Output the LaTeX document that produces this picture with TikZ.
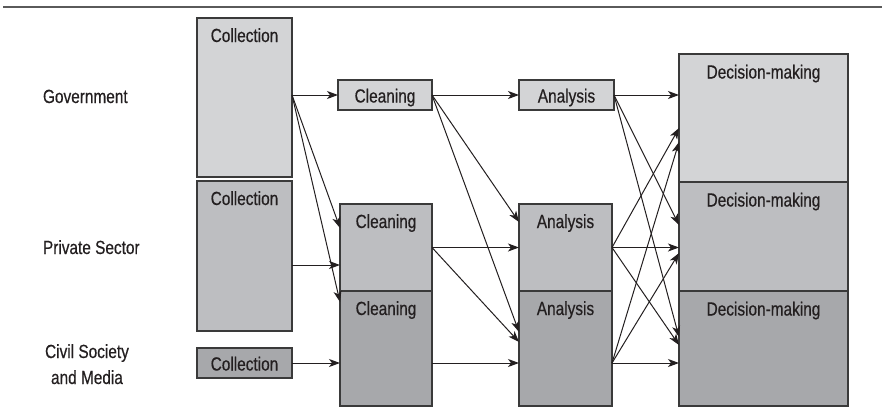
\documentclass[tikz,border=0pt]{standalone}
\usepackage{fontspec}
\setmainfont{Liberation Sans}[FakeStretch=0.81,FakeBold=0.5]
\usetikzlibrary{arrows.meta,calc}
\definecolor{gfill}{HTML}{D3D4D6}
\definecolor{pfill}{HTML}{BDBEC1}
\definecolor{cfill}{HTML}{A7A8AB}
\definecolor{edge}{HTML}{3A3A3A}
\definecolor{ink}{HTML}{231F20}
\definecolor{rulec}{HTML}{5A5A5A}
\begin{document}
\begin{tikzpicture}[x=1pt,y=-1pt,
  box/.style={draw=edge,line width=1.2pt,inner sep=0pt,outer sep=0pt,text=ink,
    font=\fontsize{19}{22}\selectfont,text height=15pt,text depth=0pt},
  txt/.style={inner sep=0pt,outer sep=0pt,text=ink,font=\fontsize{19}{22}\selectfont},
  arr/.style={draw=ink,line width=1pt,-{Stealth[length=11pt,width=8pt,inset=3pt]}}]
\useasboundingbox (0,0) rectangle (882,413);
\draw[rulec,line width=2pt] (3,7) -- (882,7);

% left labels
\node[txt,anchor=base west] (gov) at (43,103) {Government};
\node[txt,anchor=base west] (priv) at (43,254) {Private Sector};
\node[txt,anchor=base] (civa) at (87,358) {Civil Society};
\node[txt,anchor=base] (civb) at (87,384) {and Media};

% collection
\node[box,fill=gfill,minimum width=95pt,minimum height=159pt] (col1) at (244.5,97.5) {};
\node[box,fill=pfill,minimum width=95pt,minimum height=150pt] (col2) at (244.5,256) {};
\node[box,fill=cfill,minimum width=95pt,minimum height=30pt] (col3) at (244.5,363) {Collection};
\node[txt,anchor=base] (col1t) at ($(col1.north)+(0,24)$) {Collection};
\node[txt,anchor=base] (col2t) at ($(col2.north)+(0,24)$) {Collection};

% cleaning
\node[box,fill=gfill,minimum width=94pt,minimum height=30pt] (cl1) at (385,95) {Cleaning};
\node[box,fill=pfill,minimum width=92pt,minimum height=87pt] (cl2) at (386,247.5) {};
\node[box,fill=cfill,minimum width=92pt,minimum height=115pt] (cl3) at (386,348.5) {};
\node[txt,anchor=base] (cl2t) at ($(cl2.north)+(0,24)$) {Cleaning};
\node[txt,anchor=base] (cl3t) at ($(cl3.north)+(0,24)$) {Cleaning};

% analysis
\node[box,fill=gfill,minimum width=95pt,minimum height=30pt] (an1) at (566.5,95) {Analysis};
\node[box,fill=pfill,minimum width=93pt,minimum height=87pt] (an2) at (565.5,247.5) {};
\node[box,fill=cfill,minimum width=93pt,minimum height=115pt] (an3) at (565.5,348.5) {};
\node[txt,anchor=base] (an2t) at ($(an2.north)+(0,24)$) {Analysis};
\node[txt,anchor=base] (an3t) at ($(an3.north)+(0,24)$) {Analysis};

% decision-making
\node[box,fill=gfill,minimum width=169pt,minimum height=128pt] (dm1) at (763.5,118) {};
\node[box,fill=pfill,minimum width=169pt,minimum height=109pt] (dm2) at (763.5,236.5) {};
\node[box,fill=cfill,minimum width=169pt,minimum height=115pt] (dm3) at (763.5,348.5) {};
\node[txt,anchor=base] (dm1t) at ($(dm1.north)+(0,24.5)$) {Decision-making};
\node[txt,anchor=base] (dm2t) at ($(dm2.north)+(0,24.5)$) {Decision-making};
\node[txt,anchor=base] (dm3t) at ($(dm3.north)+(0,24.5)$) {Decision-making};

% collection -> cleaning
\coordinate (g1) at (col1.east |- cl1.west);
\draw[arr] (g1) -- (cl1.west);
\draw[arr] (g1) -- ($(cl2.north west)+(0,24)$);
\draw[arr] (g1) -- ($(cl3.north west)+(0,11)$);
\draw[arr] ($(col2.north east)+(0,84)$) -- ($(cl2.north west)+(0,61)$);
\draw[arr] (col3.east) -- (col3.east -| cl3.west);

% cleaning -> analysis
\draw[arr] (cl1.east) -- (an1.west);
\draw[arr] (cl1.east) -- ($(an2.north west)+(0,18)$);
\draw[arr] (cl1.east) -- ($(an3.north west)+(0,41)$);
\draw[arr] (cl2.east) -- (an2.west);
\draw[arr] (cl2.east) -- ($(an3.north west)+(0,51)$);
\draw[arr] (cl3.east |- col3.east) -- (an3.west |- col3.east);

% analysis -> decision
\draw[arr] (an1.east) -- (an1.east -| dm1.west);
\draw[arr] (an1.east) -- ($(dm2.north west)+(0,43)$);
\draw[arr] (an1.east) -- ($(dm3.north west)+(0,46)$);
\draw[arr] (an2.east) -- ($(dm1.north west)+(0,74)$);
\draw[arr] (an2.east) -- (an2.east -| dm2.west);
\draw[arr] (an2.east) -- ($(dm3.north west)+(0,54)$);
\coordinate (a3) at (an3.east |- col3.east);
\draw[arr] (a3) -- ($(dm1.north west)+(0,88)$);
\draw[arr] (a3) -- ($(dm2.north west)+(0,71)$);
\draw[arr] (a3) -- (a3 -| dm3.west);
\end{tikzpicture}
\end{document}
